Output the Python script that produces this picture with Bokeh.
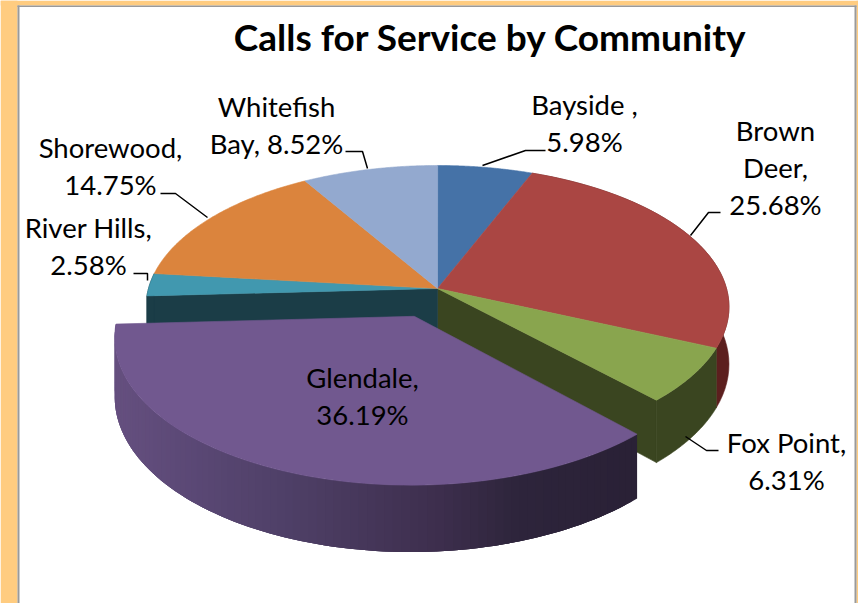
import numpy as np
from bokeh.plotting import figure
from bokeh.embed import file_html
from bokeh.resources import INLINE
from bokeh.core.properties import value

categories = ["Bayside", "Brown Deer", "Fox Point", "Glendale", "River Hills", "Shorewood", "Whitefish Bay"]
shares = [5.98, 25.68, 6.31, 36.19, 2.58, 14.75, 8.52]
top_colors = ["#4572A7", "#AA4643", "#89A54E", "#71588F", "#4198AF", "#DB843D", "#93A9CF"]
side_colors = ["#2A4566", "#5C1F1E", "#3A4520", "#4A3A62", "#1B3D47", "#8A5226", "#5A6A85"]
explode = [0, 0, 0, 0.21, 0, 0, 0]

label_lines = [
    (["Bayside ,", "5.98%"], 584, 103.5),
    (["Brown", "Deer,", "25.68%"], 775, 129.5),
    (["Fox Point,", "6.31%"], 786, 441.5),
    (["Glendale,", "36.19%"], 362, 376.5),
    (["River Hills,", "2.58%"], 88, 226.5),
    (["Shorewood,", "14.75%"], 110, 146.5),
    (["Whitefish", "Bay, 8.52%"], 276, 105.5),
]
leaders = [
    ([545, 525, 482], [150, 150, 165]),
    ([720, 708, 690], [212, 212, 235]),
    ([718, 706, 685], [450, 450, 436]),
    ([133, 147, 147], [273, 273, 280]),
    ([160, 175, 207], [193, 193, 217]),
    ([345, 362, 367], [151, 151, 168]),
]
title = "Calls for Service by Community"

CX, CY, RX, RY, K, DEPTH = 437, 288, 289, 139, 0.13, 56.5
FONT = value("Lato")

p = figure(width=858, height=603, x_range=(0, 858), y_range=(603, 0),
           output_backend="svg", toolbar_location=None, min_border=0)
p.axis.visible = False
p.grid.visible = False
p.outline_line_color = None
p.background_fill_color = "white"
p.border_fill_color = "white"

def project(theta, r=1.0, e=0.0, mid=0.0, drop=0.0):
    ux = r * np.sin(theta) + e * np.sin(mid)
    uy = r * np.cos(theta) + e * np.cos(mid)
    s = 1.0 / (1.0 + K * uy)
    return CX + RX * ux * s, CY - RY * uy * s + drop * s

def fill(xs, ys, color, line=True):
    p.patch(list(xs), list(ys), fill_color=color, line_color=color if line else None, line_width=0.6)

# frame
p.quad(left=0, right=858, top=0, bottom=5, fill_color="#FFCC80", line_color=None)
p.quad(left=0, right=17, top=0, bottom=603, fill_color="#FFCC80", line_color=None)
p.quad(left=856, right=858, top=0, bottom=603, fill_color="#FFCC80", line_color=None)
p.quad(left=17, right=856, top=5, bottom=6.5, fill_color="#9A9A9A", line_color=None)
p.quad(left=17, right=19, top=5, bottom=603, fill_color="#9A9A9A", line_color=None)
p.quad(left=854, right=856, top=5, bottom=603, fill_color="#9A9A9A", line_color=None)

cum = np.cumsum([0] + shares) / 100 * 2 * np.pi
spans = list(zip(cum[:-1], cum[1:]))

def wall(theta, color):
    x0, y0 = project(theta, 0)
    x1, y1 = project(theta, 1)
    xb0, yb0 = project(theta, 0, drop=DEPTH)
    xb1, yb1 = project(theta, 1, drop=DEPTH)
    fill([x0, x1, xb1, xb0], [y0, y1, yb1, yb0], color)

def rim(a, b, color):
    t = np.linspace(a, b, 40)
    x, y = project(t)
    xb, yb = project(t, drop=DEPTH)
    fill(np.r_[x, xb[::-1]], np.r_[y, yb[::-1]], color)

# inner walls left open by the exploded slice
idx_g = categories.index("Glendale")
wall(spans[idx_g][0], side_colors[2])
wall(spans[idx_g][1], side_colors[4])
rim(spans[1][0], spans[1][1], side_colors[1])
rim(spans[2][0], spans[2][1], side_colors[2])
rim(spans[4][0], spans[4][1], side_colors[4])

def top(i):
    a, b = spans[i]
    mid = (a + b) / 2
    t = np.linspace(a, b, 80)
    x, y = project(t, 1, explode[i], mid)
    ax, ay = project(mid, 0, explode[i], mid)
    fill(np.r_[ax, x], np.r_[ay, y], top_colors[i])

for i in [0, 1, 2, 4, 5, 6]:
    top(i)

# exploded slice: shaded outer side (each band overlaps the next), then its top
a, b = spans[idx_g]
mid = (a + b) / 2
n = 90
edges = np.linspace(a, b, n + 1)
stops_x = [113, 200, 300, 440, 520, 640]
stops_rgb = np.array([[0x66, 0x50, 0x80], [0x5A, 0x48, 0x75], [0x4E, 0x3F, 0x66],
                      [0x3E, 0x2F, 0x4E], [0x2E, 0x25, 0x3C], [0x2A, 0x21, 0x36]])
for j in range(n):
    t = np.linspace(edges[j], b if j + 3 > n else edges[j + 3], 4)
    x, y = project(t, 1, explode[idx_g], mid)
    xb, yb = project(t, 1, explode[idx_g], mid, drop=DEPTH)
    xc = project(edges[j], 1, explode[idx_g], mid)[0]
    c = [int(np.interp(xc, stops_x, stops_rgb[:, k])) for k in range(3)]
    fill(np.r_[x, xb[::-1]], np.r_[y, yb[::-1]], "#%02X%02X%02X" % tuple(c), line=False)
top(idx_g)

for xs, ys in leaders:
    p.line(xs, ys, line_color="black", line_width=1.5)

for lines, x, y in label_lines:
    for k, line in enumerate(lines):
        p.text([x], [y + k * 37], text=[line], text_font=FONT, text_font_size="27.5px",
               text_align="center", text_baseline="middle", text_color="black")

p.text([490], [36], text=[title], text_font=FONT, text_font_size="37px", text_font_style="bold",
       text_align="center", text_baseline="middle", text_color="black")

open("out.html", "w").write(file_html(p, INLINE))
